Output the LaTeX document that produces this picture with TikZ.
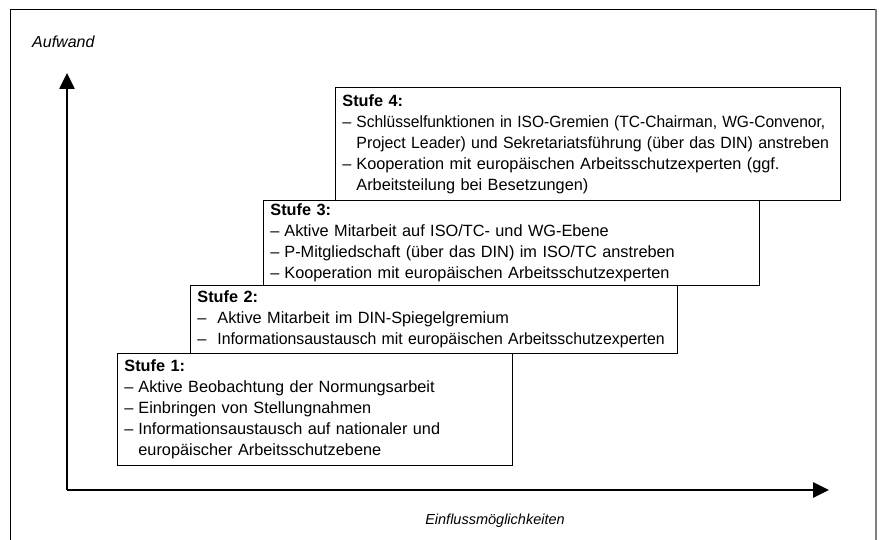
\documentclass[tikz,border=0pt]{standalone}
\usepackage{graphicx}
\usepackage{fontspec}
\setmainfont{Liberation Sans}
\usetikzlibrary{arrows.meta}
\newcommand{\dashitem}[2][14pt]{\mbox{\makebox[#1][l]{–}#2}}
\newcommand{\contline}[2][14pt]{\mbox{\hspace*{#1}#2}}
\newcommand{\sqz}[2]{\scalebox{#1}[1]{#2}}
\tikzset{
  stufebox/.style n args={2}{draw=black, line width=0.8pt, anchor=north west,
    minimum width=#1, minimum height=#2, text width=#1-14pt, inner xsep=7pt, inner ysep=2pt,
    align=left, font=\fontsize{16.3}{21}\selectfont, fill=white},
  axisline/.style={line width=2.6pt, -{Triangle[length=16pt,width=15pt]}},
  axislabel/.style={font=\fontsize{14.5}{17}\selectfont\itshape, inner sep=0pt},
}
\begin{document}
\begin{tikzpicture}[x=1pt,y=-1pt]
\useasboundingbox (0,0) rectangle (879,540);
\clip (0,0) rectangle (879,540);
% outer frame
\draw[line width=0.8pt] (876,9) -- (10.5,9) -- (10.5,560);
\draw[line width=1.8pt, gray] (876,9) -- (876,560);
% axes
\coordinate (O) at (67,490);
\coordinate (Ytip) at (67,73);
\coordinate (Xtip) at (829,490);
\draw[axisline] (O) -- (Ytip);
\draw[axisline] (O) -- (Xtip);
\node[axislabel, font=\fontsize{16}{18}\selectfont\itshape, anchor=west] (ylab) at (32,42) {Aufwand};
\node[axislabel] (xlab) at (495,521) {Einflussmöglichkeiten};
% boxes
\node[stufebox={505pt}{113pt}] (s4) at (335,87) {%
\textbf{Stufe 4:}\\
\dashitem{\sqz{0.955}{Schlüsselfunktionen in ISO-Gremien (TC-Chairman, WG-Convenor,}}\\
\contline{\sqz{0.975}{Project Leader) und Sekretariatsführung (über das DIN) anstreben}}\\
\dashitem{Kooperation mit europäischen Arbeitsschutzexperten (ggf.}\\
\contline{Arbeitsteilung bei Besetzungen)}};
\node[stufebox={496pt}{85pt}] (s3) at (263,200) {%
\textbf{Stufe 3:}\\
\dashitem{Aktive Mitarbeit auf ISO/TC- und WG-Ebene}\\
\dashitem{P-Mitgliedschaft (über das DIN) im ISO/TC anstreben}\\
\dashitem{Kooperation mit europäischen Arbeitsschutzexperten}};
\node[stufebox={487pt}{68pt}] (s2) at (190,285) {%
\textbf{Stufe 2:}\\
\dashitem[20pt]{Aktive Mitarbeit im DIN-Spiegelgremium}\\
\dashitem[20pt]{\sqz{0.97}{Informationsaustausch mit europäischen Arbeitsschutzexperten}}};
\node[stufebox={395pt}{112pt}] (s1) at (117,353) {%
\textbf{Stufe 1:}\\
\dashitem{Aktive Beobachtung der Normungsarbeit}\\
\dashitem{Einbringen von Stellungnahmen}\\
\dashitem{Informationsaustausch auf nationaler und}\\
\contline{europäischer Arbeitsschutzebene}};
\end{tikzpicture}
\end{document}
